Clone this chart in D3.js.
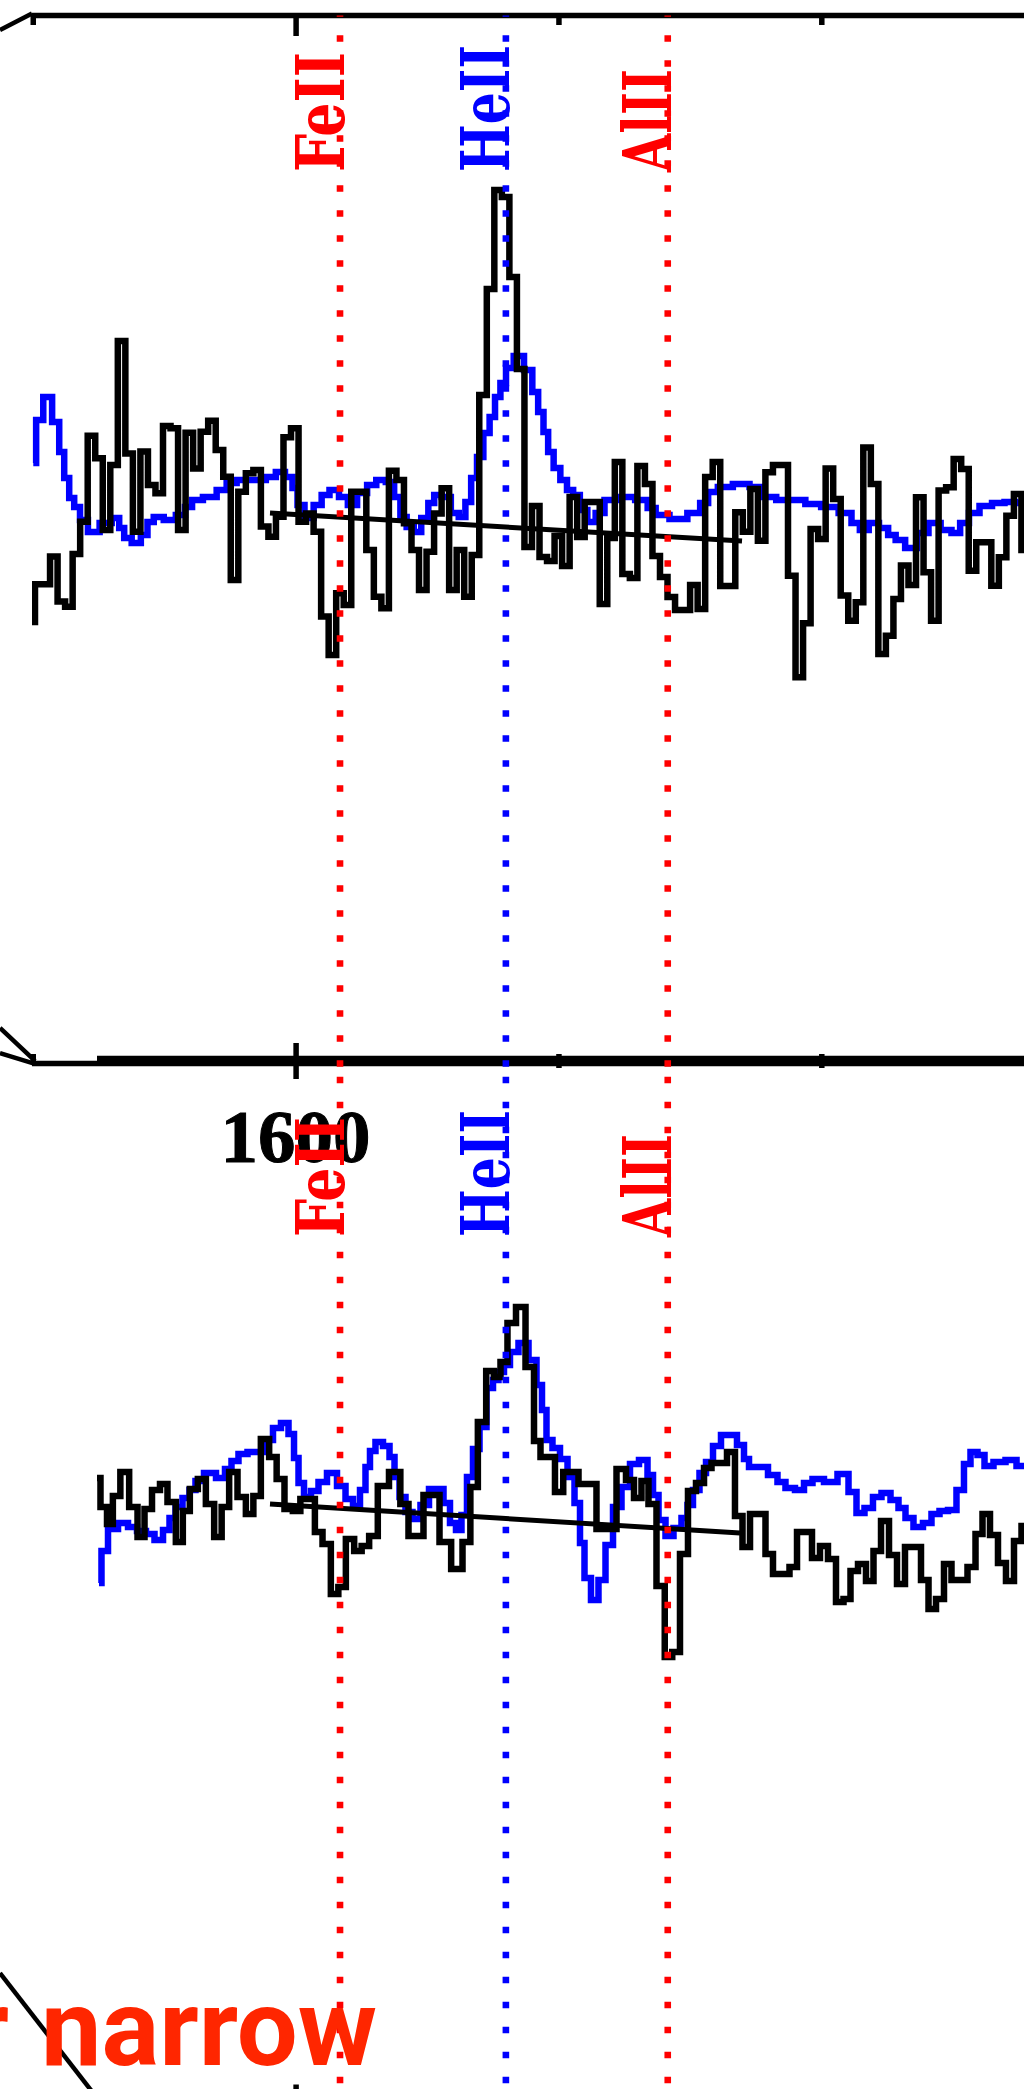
<!DOCTYPE html>
<html>
<head>
<meta charset="utf-8">
<script src="https://cdn.jsdelivr.net/npm/d3@7"></script>
<style>
  body { margin: 0; background: #fff; }
  svg { display: block; }
</style>
</head>
<body>
<script>
var width = 1024,
    height = 2089;

// observed spectrum, top panel (regular bins)
var topBinStart = 1549.71,
    topBinStep = 1.4324;
var topObsFlux = [0.660,0.786,0.786,0.878,0.728,0.711,0.887,0.994,1.281,1.206,
  0.967,1.183,1.597,1.222,0.961,1.228,1.117,1.089,1.313,1.306,
  0.967,1.291,1.172,1.294,1.331,1.233,1.144,0.800,1.094,1.156,
  1.167,0.978,0.944,1.011,1.276,1.306,0.994,1.022,0.961,0.678,
  0.550,0.756,0.717,1.094,1.094,0.900,0.744,0.706,1.164,1.133,
  0.989,0.900,0.767,0.894,1.022,1.106,0.767,0.900,0.744,0.883,
  1.417,1.770,2.100,2.077,1.810,1.503,0.910,1.047,0.877,0.863,
  0.947,0.847,1.077,0.943,1.060,1.060,0.720,0.940,1.193,0.820,
  0.807,1.180,1.120,0.880,0.810,0.743,0.700,0.700,0.783,0.703,
  1.143,1.193,0.780,0.780,1.026,0.961,1.103,0.931,1.159,1.183,
  1.183,0.814,0.476,0.656,0.970,0.937,1.172,1.070,0.748,0.664,
  0.726,1.242,1.120,0.553,0.614,0.737,0.848,0.783,1.076,0.826,
  0.664,1.098,1.109,1.203,1.170,0.831,0.926,0.926,0.781,0.876,
  1.014,1.087,0.900];

// model (blue), top panel
var topModelWave = [1550.10,1551.19,1552.81,1554.56,1555.51,1556.46,1557.41,1558.36,1559.62,1561.37,
  1564.07,1565.97,1566.92,1567.87,1569.77,1571.35,1572.30,1573.73,1576.11,1578.33,
  1579.59,1581.02,1583.72,1586.25,1587.52,1590.05,1593.23,1595.45,1597.03,1598.93,
  1599.89,1600.84,1602.55,1604.32,1605.59,1607.30,1609.21,1610.67,1612.73,1614.48,
  1616.21,1618.11,1619.38,1620.49,1621.76,1623.19,1624.61,1625.89,1626.84,1628.74,
  1630.32,1631.75,1632.85,1633.94,1635.08,1636.35,1637.46,1638.41,1639.51,1640.54,
  1642.44,1644.46,1645.60,1646.68,1647.63,1648.45,1649.72,1651.00,1652.25,1653.34,
  1654.80,1656.19,1657.96,1659.56,1662.85,1666.33,1667.61,1669.37,1672.87,1676.17,
  1677.74,1679.21,1681.43,1684.92,1687.77,1690.00,1692.85,1695.70,1698.23,1701.71,
  1704.89,1706.60,1708.07,1709.97,1711.98,1713.45,1714.84,1717.06,1719.29,1721.49,
  1723.91,1725.62,1727.20,1728.99,1731.20,1733.75,1735.95,1737.74,1739.50];
var topModelFlux = [1.190,1.333,1.410,1.327,1.227,1.140,1.073,1.043,1.000,0.960,
  0.990,1.007,0.973,0.940,0.923,0.950,0.993,1.010,1.000,1.017,
  1.043,1.067,1.077,1.100,1.123,1.133,1.133,1.143,1.160,1.143,
  1.107,1.050,1.007,1.050,1.083,1.100,1.077,1.050,1.090,1.117,
  1.133,1.127,1.077,1.010,0.977,0.960,1.007,1.057,1.083,1.077,
  1.023,1.010,1.060,1.140,1.210,1.290,1.343,1.410,1.457,1.507,
  1.547,1.500,1.427,1.360,1.293,1.227,1.173,1.133,1.100,1.083,
  1.033,0.993,1.023,1.067,1.077,1.067,1.040,1.017,1.003,1.023,
  1.057,1.093,1.110,1.120,1.110,1.077,1.067,1.067,1.053,1.043,
  1.023,0.990,0.967,0.990,0.973,0.950,0.933,0.907,0.957,0.990,
  0.967,0.957,0.990,1.023,1.047,1.057,1.060,1.057,1.057];

// continuum fit, top panel
var topContWave = [1595.13, 1684.92],
    topContFlux = [1.023, 0.930];

// observed spectrum, bottom panel
var botObsWave = [1562.22,1563.55,1564.70,1565.78,1567.55,1569.13,1570.73,1571.79,1573.58,1574.83,
  1576.43,1578.01,1579.09,1580.67,1582.14,1583.72,1585.30,1586.57,1588.15,1589.75,
  1591.33,1592.60,1594.18,1595.76,1597.03,1598.74,1600.21,1601.60,1603.02,1604.32,
  1605.92,1607.49,1608.77,1610.35,1611.93,1613.20,1614.78,1616.49,1619.04,1620.81,
  1622.14,1623.66,1624.99,1626.52,1628.23,1630.95,1632.55,1633.94,1635.40,1637.11,
  1638.31,1639.64,1640.97,1642.88,1644.59,1646.11,1647.06,1648.58,1650.10,1651.72,
  1653.15,1654.48,1656.00,1658.47,1660.00,1662.09,1663.61,1665.13,1666.46,1667.79,
  1669.51,1670.93,1672.36,1673.88,1675.40,1676.93,1678.45,1679.78,1681.30,1682.82,
  1684.34,1685.68,1687.20,1688.72,1690.05,1691.57,1693.09,1694.81,1695.95,1697.47,
  1698.99,1700.51,1702.03,1703.56,1704.89,1706.22,1707.74,1709.26,1710.60,1712.12,
  1713.64,1715.16,1716.68,1718.20,1719.73,1721.06,1722.58,1724.10,1725.43,1726.95,
  1728.67,1730.00,1731.33,1732.85,1734.37,1735.89,1737.42,1738.75,1740.30];
var botObsFlux = [1.123,1.027,0.970,1.063,1.143,1.027,0.927,1.020,1.083,1.103,
  1.043,0.910,1.013,1.087,1.120,1.037,0.927,1.027,1.143,1.060,
  1.003,1.063,1.253,1.193,1.120,1.020,1.013,1.053,1.053,0.943,
  0.903,0.737,0.760,0.920,0.880,0.897,0.930,1.097,1.143,1.037,
  0.930,0.930,1.067,1.067,0.910,0.820,0.910,1.093,1.310,1.480,
  1.460,1.510,1.640,1.693,1.493,1.247,1.193,1.193,1.077,1.143,
  1.143,1.103,1.103,0.953,0.953,1.153,1.117,1.057,1.113,1.037,
  0.763,0.527,0.543,0.870,1.080,1.107,1.157,1.173,1.173,1.210,
  0.997,0.893,1.003,1.003,0.870,0.803,0.803,0.827,0.943,0.943,
  0.857,0.897,0.853,0.710,0.720,0.813,0.837,0.780,0.880,0.980,
  0.867,0.770,0.893,0.893,0.783,0.687,0.720,0.837,0.783,0.783,
  0.827,0.937,1.003,0.933,0.840,0.780,0.913,0.963,0.963];

// model (blue), bottom panel
var botModelWave = [1562.60,1563.55,1565.08,1567.36,1568.88,1570.78,1572.30,1574.02,1575.54,1576.49,
  1577.82,1579.15,1580.48,1581.43,1583.72,1586.00,1587.14,1588.47,1589.80,1591.90,
  1593.80,1594.94,1596.46,1597.98,1599.32,1600.08,1601.03,1602.17,1603.69,1605.02,
  1606.92,1608.83,1610.16,1611.68,1612.82,1613.77,1614.53,1615.86,1617.39,1618.34,
  1619.29,1620.24,1621.57,1622.90,1624.61,1626.14,1627.47,1628.80,1629.94,1631.08,
  1632.03,1633.17,1634.32,1635.65,1636.98,1638.12,1639.07,1640.21,1641.35,1643.45,
  1645.16,1646.49,1647.25,1648.20,1649.53,1651.06,1652.39,1653.72,1654.48,1655.43,
  1656.95,1658.28,1659.62,1661.14,1662.85,1664.37,1666.27,1667.61,1668.37,1669.70,
  1671.03,1672.74,1674.07,1675.02,1676.16,1677.50,1678.64,1680.16,1681.68,1683.20,
  1684.72,1685.87,1686.63,1688.72,1691.00,1692.33,1694.04,1695.95,1697.47,1699.18,
  1701.84,1704.32,1706.03,1707.36,1709.07,1710.59,1712.31,1714.02,1715.35,1716.68,
  1718.39,1720.29,1721.63,1723.34,1724.86,1726.57,1727.71,1729.05,1730.38,1731.71,
  1733.80,1736.28,1737.99,1739.70];
var botModelFlux = [0.773,0.880,0.953,0.973,0.960,0.947,0.937,0.917,0.950,0.990,
  1.027,1.057,1.083,1.113,1.140,1.123,1.153,1.180,1.203,1.210,
  1.210,1.250,1.290,1.307,1.270,1.190,1.107,1.060,1.080,1.110,
  1.140,1.097,1.053,1.030,1.083,1.160,1.213,1.243,1.230,1.193,
  1.127,1.060,1.010,0.987,1.033,1.087,1.087,1.040,0.973,0.950,
  1.000,1.127,1.220,1.293,1.423,1.450,1.477,1.500,1.543,1.573,
  1.517,1.433,1.350,1.250,1.223,1.187,1.127,1.040,0.907,0.790,
  0.717,0.783,0.900,1.027,1.093,1.170,1.183,1.133,1.067,0.983,
  0.930,0.957,0.990,1.033,1.083,1.140,1.177,1.230,1.267,1.267,
  1.233,1.187,1.160,1.160,1.133,1.110,1.090,1.083,1.107,1.120,
  1.110,1.137,1.077,1.007,1.023,1.060,1.073,1.050,1.023,0.990,
  0.960,0.973,1.003,1.013,1.017,1.083,1.170,1.210,1.200,1.163,
  1.177,1.183,1.163,1.163];

// continuum fit, bottom panel
var botContWave = [1595.13, 1684.53],
    botContFlux = [1.037, 0.940];

// marked lines
var lineNames = ["FeII", "HeII", "AlII"],
    lineWaves = [1608.45, 1640.0, 1670.79],
    lineColors = ["#ff0000", "#0000ff", "#ff0000"],
    lineLabelLen = [120, 127, 103];

// axis ticks
var majorTicks = [1600, 1800],
    minorTicks = [1550, 1650, 1700, 1750],
    tickLabels = ["1600"];

var svg = d3.select("body").append("svg")
    .attr("width", width)
    .attr("height", height);

var x = d3.scaleLinear()
    .domain([1550, 1700])
    .range([32.75, 821.3]);

function zip(w, f) { return w.map(function(d, i) { return [d, f[i]]; }); }

var topObsWave = d3.range(topObsFlux.length).map(function(i) { return topBinStart + i * topBinStep; });

var panels = [
  { id: "top", top: 15.5, bottom: 1063.5, left: 32, labelY: 172,
    y: d3.scaleLinear().domain([0, 2]).range([820, 220]),
    obs: zip(topObsWave, topObsFlux),
    model: zip(topModelWave, topModelFlux),
    cont: zip(topContWave, topContFlux),
    guides: [ [[1543.77, 2.633], [1549.86, 2.688]],
              [[1543.77, -0.693], [1550.43, -0.803]],
              [[1543.77, -0.777], [1550.43, -0.813]] ] },
  { id: "bot", top: 1058.5, bottom: 2105, left: 97, labelY: 1237,
    y: d3.scaleLinear().domain([0, 2]).range([1815, 1215]),
    obs: zip(botObsWave, botObsFlux),
    model: zip(botModelWave, botModelFlux),
    cont: zip(botContWave, botContFlux),
    guides: [ [[1543.77, -0.527], [1563.10, -0.963]] ] }
];

var defs = svg.append("defs");

// axes first
panels.forEach(function(p) {
  [p.top, p.bottom].forEach(function(yPos, k) {
    svg.append("line")
        .attr("x1", p.left).attr("x2", width + 10)
        .attr("y1", yPos).attr("y2", yPos)
        .attr("stroke", "#000").attr("stroke-width", 5.5);
    var gen = k === 0 ? d3.axisBottom : d3.axisTop;
    [[majorTicks, 20.5], [minorTicks, 9.5]].forEach(function(t) {
      var g = svg.append("g")
          .attr("transform", "translate(0," + yPos + ")")
          .call(gen(x).tickValues(t[0].filter(function(v) { return x(v) >= p.left - 1; }))
                .tickSize(t[1]).tickFormat(""));
      g.select(".domain").remove();
      g.selectAll(".tick line").attr("stroke", "#000").attr("stroke-width", 5.5);
    });
  });
});

// spectra
panels.forEach(function(p) {
  defs.append("clipPath").attr("id", "clip-" + p.id)
    .append("rect")
      .attr("x", p.left).attr("y", p.top)
      .attr("width", width + 20 - p.left).attr("height", p.bottom - p.top);

  var step = d3.line()
      .x(function(d) { return x(d[0]); })
      .y(function(d) { return p.y(d[1]); })
      .curve(d3.curveStep);
  var straight = d3.line()
      .x(function(d) { return x(d[0]); })
      .y(function(d) { return p.y(d[1]); });

  var g = svg.append("g").attr("clip-path", "url(#clip-" + p.id + ")");
  g.append("path").datum(p.model)
      .attr("d", step).attr("fill", "none")
      .attr("stroke", "#0000ff").attr("stroke-width", 6.5);
  g.append("path").datum(p.obs)
      .attr("d", step).attr("fill", "none")
      .attr("stroke", "#000").attr("stroke-width", 6.5)
      .attr("stroke-linejoin", "miter");
  g.append("path").datum(p.cont)
      .attr("d", straight).attr("fill", "none")
      .attr("stroke", "#000").attr("stroke-width", 5);

  // connector lines
  p.guides.forEach(function(gd) {
    svg.append("path").datum(gd)
        .attr("d", straight).attr("fill", "none")
        .attr("stroke", "#000").attr("stroke-width", 4.5);
  });
});

// wavelength tick label
svg.selectAll(".ticklabel")
  .data(tickLabels)
  .enter().append("text")
    .attr("class", "ticklabel")
    .attr("x", function(d) { return x(+d); })
    .attr("y", 1162)
    .attr("text-anchor", "middle")
    .attr("font-family", "Liberation Serif, Times New Roman, serif")
    .attr("font-weight", "bold")
    .attr("font-size", 75)
    .attr("stroke", "#000")
    .attr("stroke-width", 1)
    .attr("fill", "#000")
    .text(function(d) { return d; });

// dotted line markers and labels
panels.forEach(function(p) {
  lineWaves.forEach(function(w, i) {
    svg.append("path")
        .attr("d", "M" + x(w) + "," + (p.bottom + 3.3) + "V" + p.top)
        .attr("stroke", lineColors[i])
        .attr("stroke-width", 6.6)
        .attr("stroke-dasharray", "6.6 18.4")
        .attr("fill", "none");
    svg.append("text")
        .attr("transform", "translate(" + (x(w) + 3.5) + "," + p.labelY + ") rotate(-90)")
        .attr("font-family", "DejaVu Serif, serif")
        .attr("font-weight", "bold")
        .attr("font-size", 68)
        .attr("textLength", lineLabelLen[i])
        .attr("lengthAdjust", "spacingAndGlyphs")
        .attr("fill", lineColors[i])
        .text(lineNames[i]);
  });
});

// annotation at bottom (its start runs off the left edge, as in the original)
svg.append("text")
    .attr("x", 377)
    .attr("y", 2065)
    .attr("text-anchor", "end")
    .attr("font-family", "Roboto, sans-serif")
    .attr("font-weight", "bold")
    .attr("font-size", 108)
    .attr("word-spacing", 5)
    .attr("fill", "#ff2600")
    .text("r narrow");
</script>
</body>
</html>
